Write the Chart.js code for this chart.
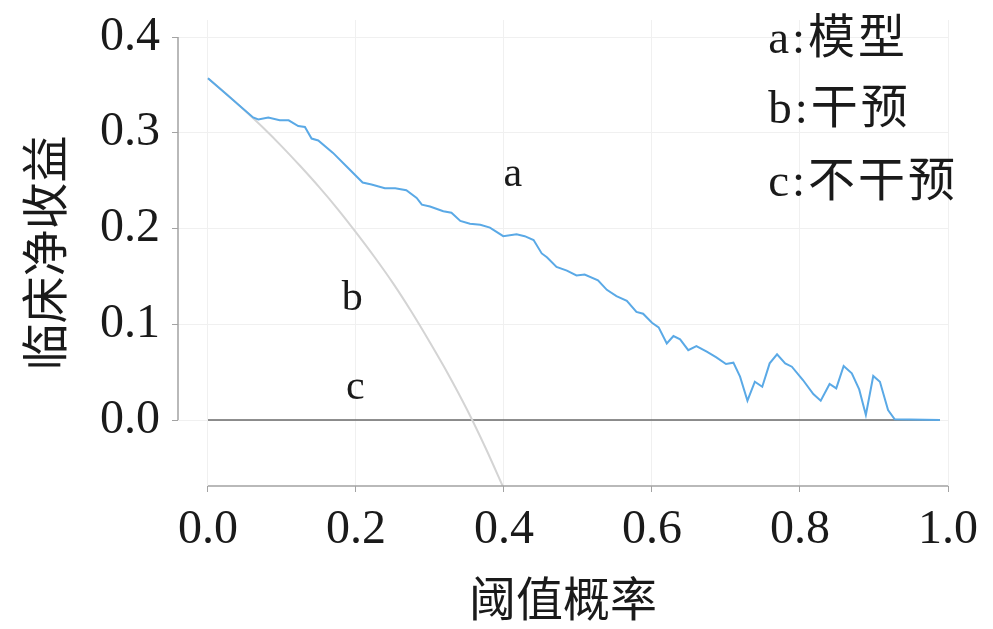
<!DOCTYPE html>
<html>
<head>
<meta charset="utf-8">
<script src="https://cdn.jsdelivr.net/npm/chart.js@4.4.1/dist/chart.umd.min.js"></script>
<style>
  body { margin: 0; background: #fff; }
</style>
</head>
<body>
<canvas id="dca" width="993" height="629"></canvas>
<script>
// threshold probability vs net benefit
var modelX = [0, 0.061, 0.068, 0.0815, 0.097, 0.109, 0.122, 0.131, 0.140, 0.149, 0.169, 0.187, 0.209, 0.221, 0.239, 0.253, 0.268, 0.282, 0.289, 0.300, 0.318, 0.329, 0.341, 0.354, 0.368, 0.381, 0.399, 0.417, 0.428, 0.440, 0.451, 0.458, 0.471, 0.485, 0.498, 0.509, 0.527, 0.539, 0.552, 0.566, 0.579, 0.588, 0.600, 0.609, 0.620, 0.629, 0.638, 0.649, 0.660, 0.674, 0.687, 0.700, 0.710, 0.719, 0.729, 0.739, 0.749, 0.759, 0.769, 0.780, 0.789, 0.804, 0.818, 0.828, 0.840, 0.849, 0.859, 0.870, 0.880, 0.889, 0.899, 0.908, 0.919, 0.928, 0.989];
var modelY = [0.357, 0.316, 0.314, 0.316, 0.313, 0.313, 0.307, 0.306, 0.294, 0.292, 0.279, 0.265, 0.248, 0.246, 0.242, 0.242, 0.240, 0.232, 0.225, 0.223, 0.218, 0.2165, 0.208, 0.205, 0.204, 0.201, 0.192, 0.194, 0.192, 0.188, 0.174, 0.170, 0.160, 0.156, 0.151, 0.152, 0.146, 0.136, 0.1295, 0.1246, 0.113, 0.111, 0.1016, 0.0968, 0.080, 0.0877, 0.0843, 0.073, 0.0773, 0.0714, 0.0655, 0.0585, 0.0599, 0.0453, 0.0202, 0.040, 0.0348, 0.0592, 0.0686, 0.0592, 0.0557, 0.0418, 0.0272, 0.0202, 0.0376, 0.0331, 0.0564, 0.0488, 0.032, 0.0052, 0.046, 0.040, 0.0104, 0.0007, 0];

var treatAllX = [0, 0.025, 0.05, 0.075, 0.1, 0.125, 0.15, 0.175, 0.2, 0.225, 0.25, 0.275, 0.3, 0.325, 0.35, 0.375, 0.4];
var treatAllY = [0.357, 0.3405, 0.323, 0.305, 0.2856, 0.265, 0.2435, 0.2206, 0.196, 0.1703, 0.143, 0.1131, 0.081, 0.0474, 0.011, -0.029, -0.072];

var treatNoneX = [0, 0.989];
var treatNoneY = [0, 0];

var xTicks = [0, 0.2, 0.4, 0.6, 0.8, 1.0];
var yTicks = [0, 0.1, 0.2, 0.3, 0.4];

var legendLines = ['a:模型', 'b:干预', 'c:不干预'];
var legendY = [0.396, 0.323, 0.247];
var curveLabels = [
  { text: 'a', x: 0.412, y: 0.256 },
  { text: 'b', x: 0.195, y: 0.126 },
  { text: 'c', x: 0.199, y: 0.033 }
];

function pts(xs, ys) {
  return xs.map(function (x, i) { return { x: x, y: ys[i] }; });
}

var serif = "'Liberation Serif', 'Noto Sans CJK SC', serif";
var cjk = "'Noto Sans CJK SC', sans-serif";

// axis lines only over the tick range, plus the text notes
var extras = {
  id: 'extras',
  afterDatasetsDraw: function (chart) {
    var c = chart.ctx, xs = chart.scales.x, ys = chart.scales.y;
    c.save();
    c.strokeStyle = '#a3a3a3';
    c.lineWidth = 1.5;
    c.beginPath();
    var yl = xs.getPixelForValue(-0.0405);
    c.moveTo(yl, ys.getPixelForValue(0));
    c.lineTo(yl, ys.getPixelForValue(0.4));
    var xb = ys.getPixelForValue(-0.0689);
    c.moveTo(xs.getPixelForValue(0), xb);
    c.lineTo(xs.getPixelForValue(1.0), xb);
    c.stroke();

    c.fillStyle = '#1a1a1a';
    c.textBaseline = 'middle';
    c.textAlign = 'left';
    c.font = '47px ' + serif;
    c.letterSpacing = '3px';
    legendLines.forEach(function (t, i) {
      c.fillText(t, xs.getPixelForValue(0.757), ys.getPixelForValue(legendY[i]));
    });
    c.letterSpacing = '0px';
    c.textAlign = 'center';
    c.font = '42px ' + serif;
    curveLabels.forEach(function (l) {
      c.fillText(l.text, xs.getPixelForValue(l.x), ys.getPixelForValue(l.y));
    });
    c.restore();
  }
};

function noPad(s) {
  s.paddingTop = 0; s.paddingBottom = 0; s.paddingLeft = 0; s.paddingRight = 0;
}

new Chart(document.getElementById('dca').getContext('2d'), {
  type: 'line',
  data: {
    datasets: [{
      label: 'a',
      data: pts(modelX, modelY),
      borderColor: '#5aa9e6',
      borderWidth: 2
    }, {
      label: 'b',
      data: pts(treatAllX, treatAllY),
      borderColor: '#d4d4d4',
      borderWidth: 2,
      cubicInterpolationMode: 'monotone'
    }, {
      label: 'c',
      data: pts(treatNoneX, treatNoneY),
      borderColor: '#6a6a6a',
      borderWidth: 1.5
    }]
  },
  plugins: [extras],
  options: {
    responsive: false,
    animation: false,
    elements: { point: { radius: 0 }, line: { tension: 0 } },
    layout: { padding: { left: 0, top: 20, right: 45, bottom: 0 } },
    plugins: { legend: { display: false }, tooltip: { enabled: false } },
    scales: {
      x: {
        type: 'linear',
        min: -0.0405,
        max: 1.0,
        afterBuildTicks: function (s) { s.ticks = xTicks.map(function (v) { return { value: v }; }); },
        afterFit: function (s) { s.height = 143; noPad(s); },
        grid: { color: '#f0f0f0', tickColor: '#a3a3a3', tickLength: 6, lineWidth: 1 },
        border: { display: false },
        ticks: {
          padding: 10,
          color: '#1a1a1a',
          font: { family: serif, size: 48 },
          callback: function (v) { return v.toFixed(1); }
        },
        title: {
          display: true,
          text: '阈值概率',
          color: '#1a1a1a',
          font: { family: cjk, size: 47 },
          padding: { top: 0, bottom: 3 }
        }
      },
      y: {
        min: -0.0689,
        max: 0.4178,
        afterBuildTicks: function (s) { s.ticks = yTicks.map(function (v) { return { value: v }; }); },
        afterFit: function (s) { s.width = 178; noPad(s); },
        grid: { color: '#f0f0f0', tickColor: '#a3a3a3', tickLength: 6, lineWidth: 1 },
        border: { display: false },
        ticks: {
          padding: 12,
          color: '#1a1a1a',
          font: { family: serif, size: 48 },
          callback: function (v) { return v.toFixed(1); }
        },
        title: {
          display: true,
          text: '临床净收益',
          color: '#1a1a1a',
          font: { family: cjk, size: 47 },
          padding: { top: 16, bottom: 0 }
        }
      }
    }
  }
});
</script>
</body>
</html>
